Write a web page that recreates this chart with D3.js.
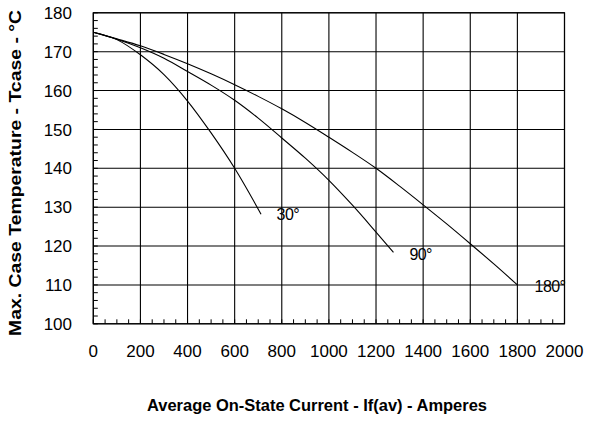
<!DOCTYPE html>
<html><head><meta charset="utf-8">
<script src="https://cdn.jsdelivr.net/npm/d3@7/dist/d3.min.js"></script>
<style>body{margin:0;background:#fff}svg{display:block}</style>
</head><body><svg id="c" width="598" height="422"></svg>
<script>
// ---- data ----
const xTicks = [0,200,400,600,800,1000,1200,1400,1600,1800,2000];
const yTicks = [100,110,120,130,140,150,160,170,180];
const xMinor = d3.range(0,2001,50);
const yMinor = d3.range(100,181,2);
const curve30  = [[0,175],[100,173.1],[200,169.2],[300,164.1],[400,157.3],[500,149.1],[600,140],[712,128.2]];
const curve90  = [[0,175],[100,173.2],[200,171],[300,168.3],[400,164.9],[500,161.4],[600,157.5],[700,152.9],[800,147.8],[900,142.6],[1000,136.9],[1100,130.5],[1200,123.6],[1274,118.4]];
const curve180 = [[0,175],[100,173.3],[200,171.5],[300,169.3],[400,166.9],[500,164.3],[600,161.5],[700,158.5],[800,155.3],[900,151.8],[1000,148],[1100,144.1],[1200,140],[1300,135.4],[1400,130.6],[1500,125.7],[1600,120.6],[1700,115.4],[1800,110]];
const curveLabels = [["30°",778,126.7],["90°",1342,116.4],["180°",1873,108.1]];
const xTitle = "Average On-State Current - If(av) - Amperes";
const yTitle = "Max. Case Temperature - Tcase - °C";

// ---- chart ----
const svg = d3.select("#c");
const font = "'Liberation Sans', Arial, Helvetica, sans-serif";
const x = d3.scaleLinear().domain([0,2000]).range([93.3,564.5]);
const y = d3.scaleLinear().domain([100,180]).range([323.8,12.8]);
const L = x(0), R = x(2000), T = y(180), B = y(100);

// grid
svg.append("g").selectAll("line").data(xTicks).join("line")
  .attr("x1",d=>x(d)).attr("x2",d=>x(d)).attr("y1",T).attr("y2",B)
  .attr("stroke","#000").attr("stroke-width",1.1);
svg.append("g").selectAll("line").data(yTicks).join("line")
  .attr("x1",L).attr("x2",R).attr("y1",d=>y(d)).attr("y2",d=>y(d))
  .attr("stroke","#000").attr("stroke-width",1.1);

// minor ticks (inside)
svg.append("g").selectAll("line").data(xMinor).join("line")
  .attr("x1",d=>x(d)).attr("x2",d=>x(d)).attr("y1",B).attr("y2",B-4.5)
  .attr("stroke","#000").attr("stroke-width",1);
svg.append("g").selectAll("line").data(yMinor).join("line")
  .attr("x1",L).attr("x2",L+4.5).attr("y1",d=>y(d)).attr("y2",d=>y(d))
  .attr("stroke","#000").attr("stroke-width",1);

// frame
svg.append("rect").attr("x",L).attr("y",T).attr("width",R-L).attr("height",B-T)
  .attr("fill","none").attr("stroke","#000").attr("stroke-width",1.2);

// curves
const line = d3.line().x(d=>x(d[0])).y(d=>y(d[1])).curve(d3.curveMonotoneX);
[curve30,curve90,curve180].forEach(c=>{
  svg.append("path").attr("d",line(c)).attr("fill","none")
    .attr("stroke","#000").attr("stroke-width",1.1);
});

// curve labels
svg.append("g").selectAll("text").data(curveLabels).join("text")
  .attr("x",d=>x(d[1])).attr("y",d=>y(d[2]))
  .attr("font-family",font).attr("font-size",16).attr("letter-spacing",-0.6)
  .attr("fill","#000").text(d=>d[0]);

// tick labels
svg.append("g").selectAll("text").data(xTicks).join("text")
  .attr("x",d=>x(d)).attr("y",357).attr("text-anchor","middle")
  .attr("font-family",font).attr("font-size",17).attr("fill","#000").text(d=>d);
svg.append("g").selectAll("text").data(yTicks).join("text")
  .attr("x",72).attr("y",d=>y(d)).attr("dy","0.36em").attr("text-anchor","end")
  .attr("font-family",font).attr("font-size",17).attr("fill","#000").text(d=>d);

// titles
svg.append("text").attr("x",317).attr("y",411).attr("text-anchor","middle")
  .attr("font-family",font).attr("font-size",16).attr("font-weight","bold")
  .attr("textLength",340).attr("lengthAdjust","spacingAndGlyphs").text(xTitle);
svg.append("text").attr("transform","translate(21,173) rotate(-90)").attr("text-anchor","middle")
  .attr("font-family",font).attr("font-size",17).attr("font-weight","bold")
  .attr("textLength",326).attr("lengthAdjust","spacingAndGlyphs").text(yTitle);
</script></body></html>
